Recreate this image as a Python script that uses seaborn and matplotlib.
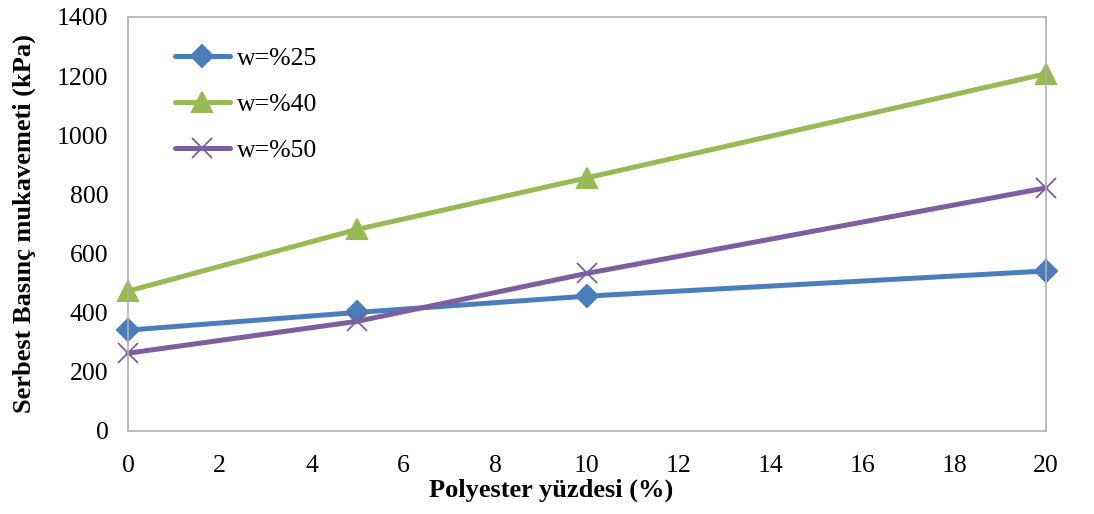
import matplotlib
matplotlib.use("Agg")
import matplotlib.pyplot as plt
import seaborn as sns
import pandas as pd

polyester = [0, 5, 10, 20]
w25 = [341, 401, 456, 541]
w40 = [473, 682, 856, 1208]
w50 = [263, 371, 533, 822]
series_names = ["w=%25", "w=%40", "w=%50"]
x_ticks = [0, 2, 4, 6, 8, 10, 12, 14, 16, 18, 20]
y_ticks = [0, 200, 400, 600, 800, 1000, 1200, 1400]

sns.set_theme(style="white")
plt.rcParams['font.family'] = ['Liberation Serif', 'DejaVu Serif']
plt.rcParams['text.color'] = 'black'
plt.rcParams['axes.labelcolor'] = 'black'
plt.rcParams['xtick.color'] = 'black'
plt.rcParams['ytick.color'] = 'black'

rows = []
for name, vals in zip(series_names, [w25, w40, w50]):
    for x, y in zip(polyester, vals):
        rows.append({"x": x, "y": y, "seri": name})
df = pd.DataFrame(rows)

colors = {"w=%25": "#4a7ebb", "w=%40": "#98b954", "w=%50": "#7d5fa0"}
markers = {"w=%25": "D", "w=%40": "^", "w=%50": "x"}
msizes = {"w=%25": 11, "w=%40": 14, "w=%50": 14}

fig = plt.figure(figsize=(10.94, 5.14), dpi=100)
ax = fig.add_axes([0.117, 0.1615, 0.839, 0.8055])

for name in series_names:
    sub = df[df["seri"] == name]
    sns.lineplot(data=sub, x="x", y="y", ax=ax, color=colors[name], linewidth=3.6,
                 marker=markers[name], markersize=msizes[name],
                 markeredgecolor=colors[name], markeredgewidth=1.5 if name != "w=%50" else 1.3,
                 label=name, sort=False, clip_on=False)

ax.set_xlim(0, 20)
ax.set_ylim(0, 1400)
ax.set_xticks(x_ticks)
ax.set_yticks(y_ticks)
ax.tick_params(axis='both', labelsize=18.5, length=0)
ax.tick_params(axis='x', pad=17)
ax.tick_params(axis='y', pad=14)
for s in ax.spines.values():
    s.set_color("#b0b0b0")
    s.set_linewidth(1.2)
ax.set_xlabel("Polyester yüzdesi (%)", fontsize=19, fontweight="bold")
ax.set_ylabel("Serbest Basınç mukavemeti (kPa)", fontsize=19, fontweight="bold")
ax.xaxis.set_label_coords(0.461, -0.115)
ax.yaxis.set_label_coords(-0.100, 0.5)

leg = ax.legend(loc="upper left", bbox_to_anchor=(0.0512, 0.927), frameon=False, fontsize=18.5,
                handlelength=2.14, handletextpad=0.27, labelspacing=0.9,
                borderpad=0, borderaxespad=0)

fig.savefig("out.png", dpi=100)
